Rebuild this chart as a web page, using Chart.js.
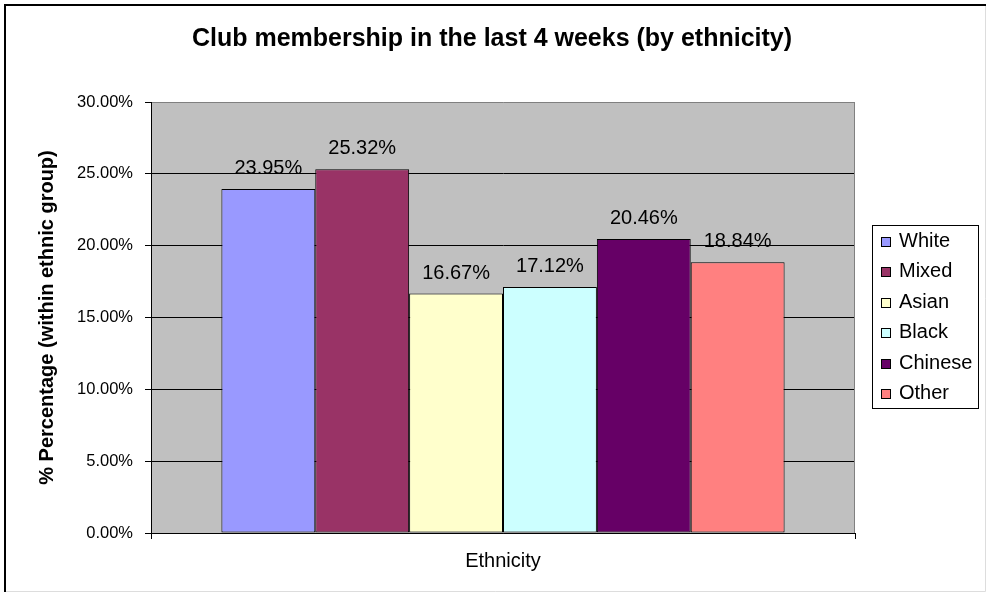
<!DOCTYPE html>
<html><head><meta charset="utf-8">
<script src="https://cdn.jsdelivr.net/npm/chart.js@4/dist/chart.umd.min.js"></script>
<style>html,body{margin:0;padding:0;background:#fff;}#wrap{width:986px;height:593px;}</style>
</head><body><div id="wrap"><canvas id="c" width="986" height="593"></canvas></div>
<script>
const categories = ['Ethnicity'];
const seriesNames = ['White', 'Mixed', 'Asian', 'Black', 'Chinese', 'Other'];
const seriesValues = [23.95, 25.32, 16.67, 17.12, 20.46, 18.84];
const seriesColors = ['#9999FF', '#993366', '#FFFFCC', '#CCFFFF', '#660066', '#FF8080'];
const yTickLabels = ['0.00%', '5.00%', '10.00%', '15.00%', '20.00%', '25.00%', '30.00%'];
const titleText = 'Club membership in the last 4 weeks (by ethnicity)';
const yTitleText = '% Percentage (within ethnic group)';

const FONT = "'Liberation Sans', Arial, sans-serif";

const custom = {
  id: 'custom',
  beforeDraw(chart) {
    const { ctx, chartArea: a } = chart;
    ctx.save();
    ctx.fillStyle = '#fff';
    ctx.fillRect(0, 0, chart.width, chart.height);
    ctx.fillStyle = '#C0C0C0';
    ctx.fillRect(a.left, a.top, a.right - a.left, a.bottom - a.top);
    ctx.restore();
  },
  beforeDatasetsDraw(chart) {
    const { ctx, chartArea: a } = chart;
    ctx.save();
    ctx.strokeStyle = '#808080';
    ctx.lineWidth = 1;
    ctx.beginPath();
    ctx.moveTo(Math.round(a.right) - 0.5, a.top);
    ctx.lineTo(Math.round(a.right) - 0.5, a.bottom);
    ctx.stroke();
    ctx.restore();
  },
  afterDraw(chart) {
    const ctx = chart.ctx;
    ctx.save();
    // data labels
    ctx.fillStyle = '#000';
    ctx.font = '20px ' + FONT;
    ctx.textAlign = 'center';
    ctx.textBaseline = 'alphabetic';
    chart.data.datasets.forEach((ds, i) => {
      const el = chart.getDatasetMeta(i).data[0];
      ctx.fillText(ds.data[0].toFixed(2) + '%', el.x, el.y - 15);
    });
    // legend
    ctx.strokeStyle = '#000';
    ctx.lineWidth = 1;
    ctx.strokeRect(872.5, 225.5, 106, 183);
    ctx.textAlign = 'left';
    chart.data.datasets.forEach((ds, i) => {
      const by = 246.5 + i * 30.5;
      const my = Math.round(by - 10) + 0.5;
      ctx.fillStyle = ds.backgroundColor;
      ctx.fillRect(881.5, my, 9, 9);
      ctx.strokeRect(881.5, my, 9, 9);
      ctx.fillStyle = '#000';
      ctx.fillText(ds.label, 899, by);
    });
    // title
    ctx.font = 'bold 25px ' + FONT;
    ctx.textAlign = 'center';
    ctx.fillText(titleText, 492, 46);
    // frame
    ctx.strokeStyle = '#000';
    ctx.lineWidth = 2;
    ctx.beginPath();
    ctx.moveTo(5, 592);
    ctx.lineTo(5, 5);
    ctx.lineTo(986, 5);
    ctx.stroke();
    ctx.strokeStyle = '#dddddd';
    ctx.lineWidth = 1;
    ctx.beginPath();
    ctx.moveTo(6, 591.5);
    ctx.lineTo(985.5, 591.5);
    ctx.lineTo(985.5, 6);
    ctx.stroke();
    ctx.restore();
  }
};

new Chart(document.getElementById('c'), {
  type: 'bar',
  data: {
    labels: categories,
    datasets: seriesNames.map((n, i) => ({
      label: n,
      data: [seriesValues[i]],
      backgroundColor: seriesColors[i],
      borderColor: '#000',
      borderWidth: 1,
      borderSkipped: false,
      categoryPercentage: 0.8,
      barPercentage: 1.0
    }))
  },
  options: {
    responsive: false,
    devicePixelRatio: 1,
    animation: false,
    layout: { padding: { top: 102, right: 131, bottom: 0, left: 0 } },
    plugins: { legend: { display: false }, title: { display: false }, tooltip: { enabled: false } },
    scales: {
      x: {
        grid: { display: true, drawOnChartArea: false, drawTicks: true, tickLength: 6, color: '#000', offset: true },
        border: { display: true, color: '#000', width: 1 },
        ticks: { color: '#000', font: { family: FONT, size: 20 }, padding: 10 },
        afterFit(s) { s.height = 60; }
      },
      y: {
        min: 0, max: 30,
        ticks: {
          stepSize: 5, color: '#000', padding: 12,
          font: { family: FONT, size: 16.5 },
          callback: (v, idx) => yTickLabels[idx]
        },
        grid: {
          color: (c) => (c.tick && c.tick.value === 30 ? '#808080' : '#000'),
          tickColor: '#000', tickLength: 6, lineWidth: 1
        },
        border: { display: true, color: '#000', width: 1 },
        title: {
          display: true, text: yTitleText, color: '#000',
          font: { family: FONT, size: 20, weight: 'bold' },
          padding: { top: 35, bottom: 0 }
        },
        afterFit(s) { s.width = 151; }
      }
    }
  },
  plugins: [custom]
});
</script>
</body></html>
